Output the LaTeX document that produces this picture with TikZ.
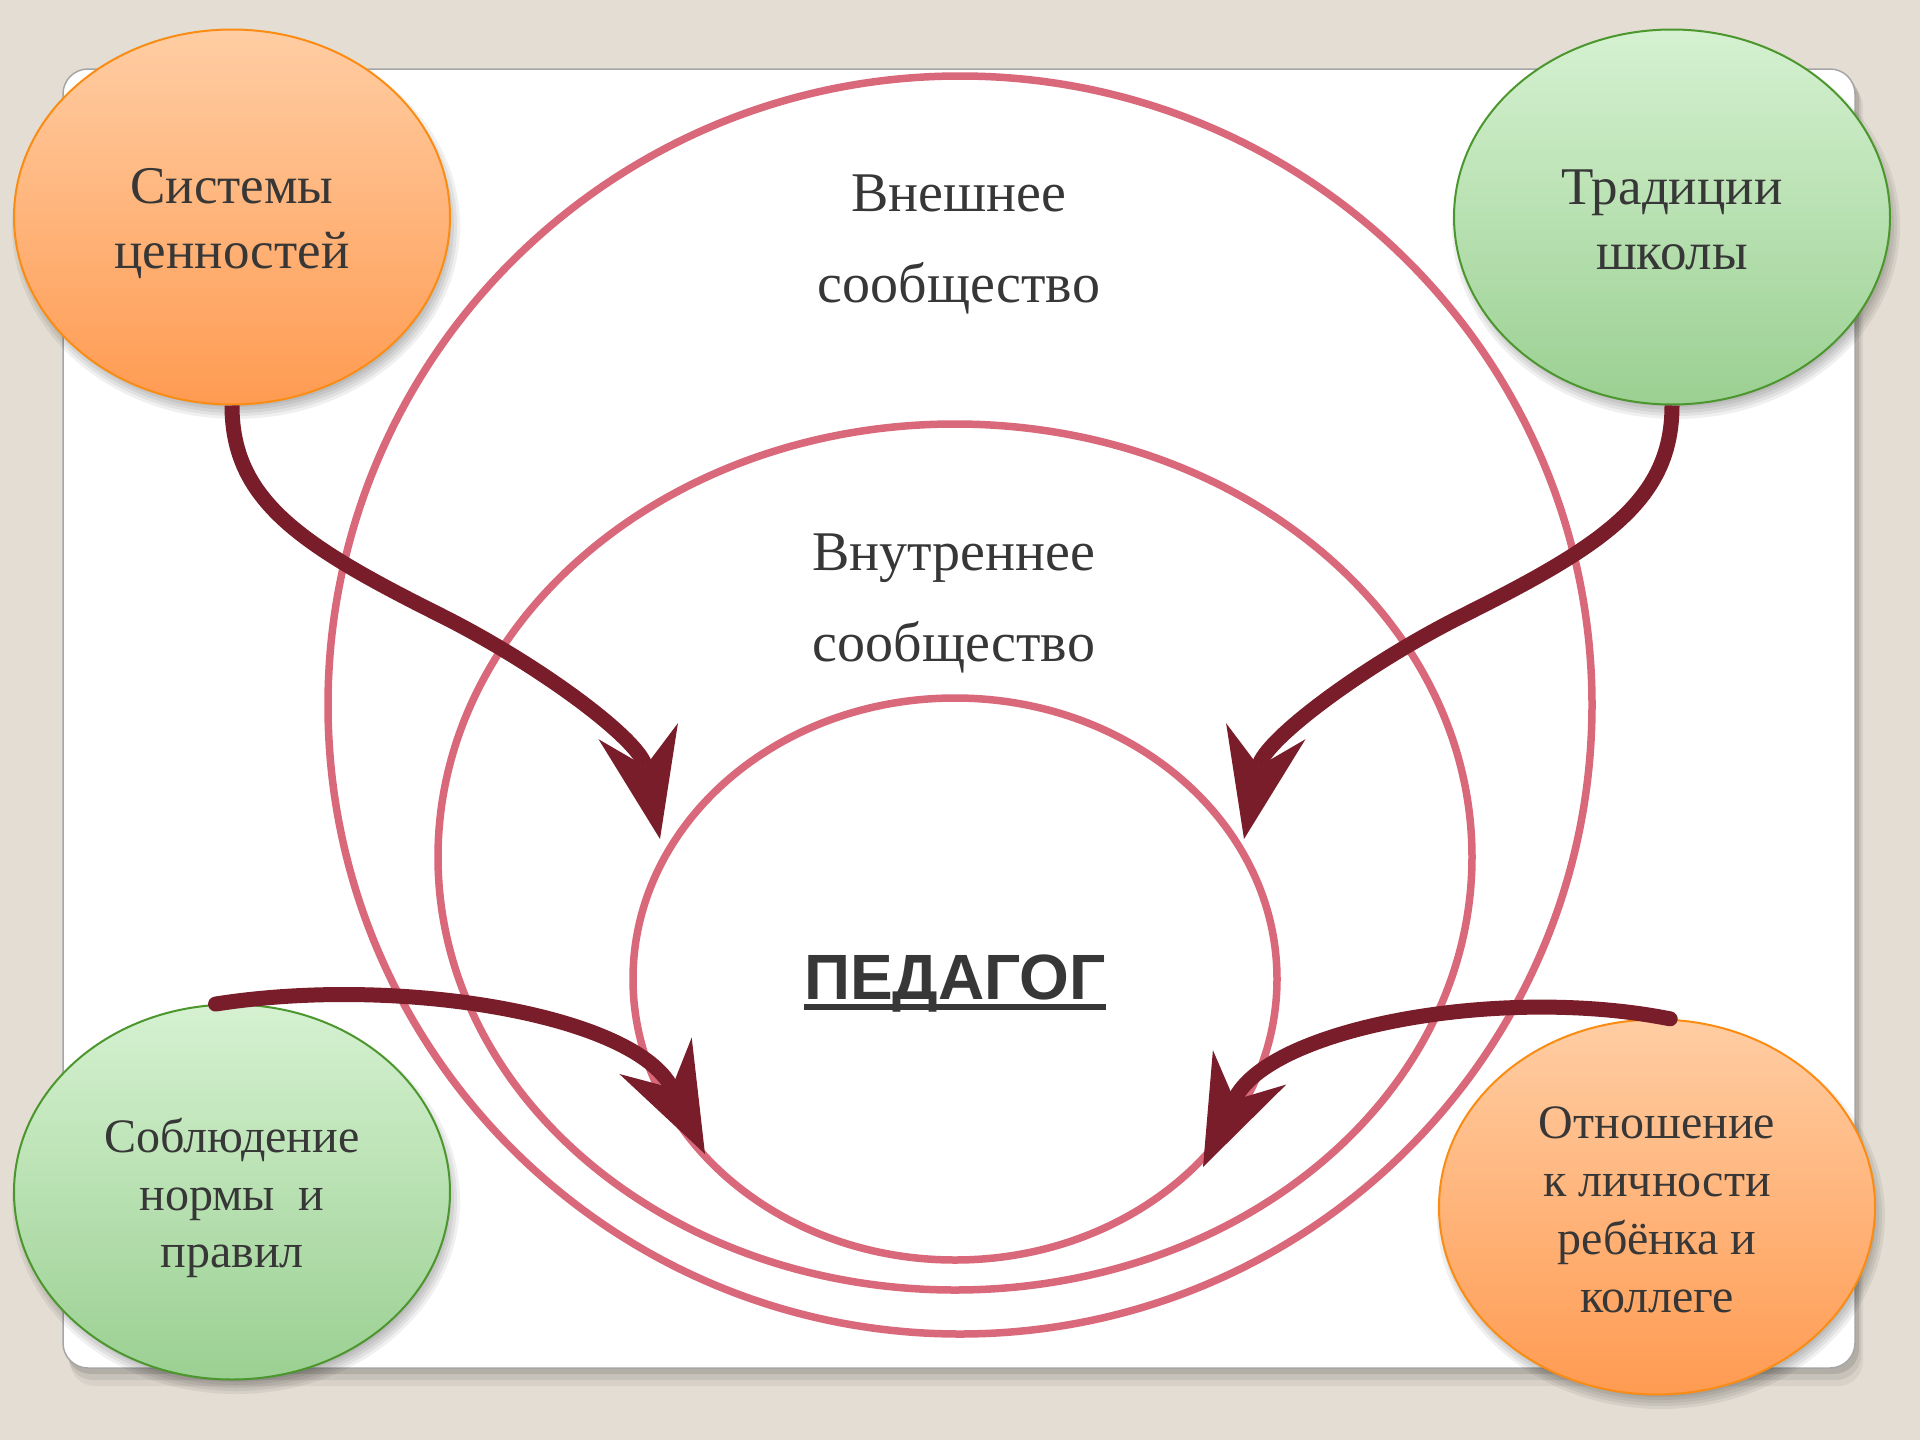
\documentclass[tikz,border=0pt]{standalone}
\usepackage{fontspec}
\setmainfont{Liberation Serif}
\newfontfamily\pedfont{Liberation Sans}
\usetikzlibrary{shapes.geometric,arrows.meta,calc}
\definecolor{bgc}{RGB}{227,221,211}
\definecolor{pinkc}{RGB}{217,105,122}
\definecolor{arrc}{RGB}{122,29,42}
\definecolor{txtc}{RGB}{55,55,55}
\definecolor{orTop}{RGB}{255,205,163}
\definecolor{orBot}{RGB}{255,155,82}
\definecolor{orLine}{RGB}{250,140,20}
\definecolor{grTop}{RGB}{213,241,209}
\definecolor{grBot}{RGB}{155,208,146}
\definecolor{grLine}{RGB}{75,150,45}
\begin{document}
\begin{tikzpicture}[x=1pt,y=-1pt,
  ring/.style={draw=pinkc, line width=7.5pt, ellipse, inner sep=0pt},
  bubble/.style={ellipse, inner sep=0pt, minimum width=436pt, minimum height=375pt,
    line width=2pt},
  orangeb/.style={bubble, draw=orLine, top color=orTop, bottom color=orBot},
  greenb/.style={bubble, draw=grLine, top color=grTop, bottom color=grBot},
  btext/.style={text=txtc, align=center, inner sep=0pt},
  bigtext/.style={text=txtc, align=center, font=\fontsize{56pt}{91pt}\selectfont},
  flow/.style={draw=arrc, line width=15pt,
    -{Stealth[length=110pt,width=81pt,inset=36pt,line width=0pt]}},
  bshadow/.style={fill=black, opacity=0.06}
]
% background
\fill[bgc] (0,0) rectangle (1920,1440);
\useasboundingbox (0,0) rectangle (1920,1440);
% panel shadow
\fill[black, opacity=0.10, rounded corners=25pt] (66,74) rectangle (1859,1374);
\fill[black, opacity=0.07, rounded corners=25pt] (68,78) rectangle (1861,1380);
\fill[black, opacity=0.05, rounded corners=25pt] (70,82) rectangle (1863,1386);
% panel
\draw[draw=black!35, fill=white, rounded corners=25pt, line width=1.5pt] (63,69) rectangle (1855,1368);
% rings
\node[ring, minimum width=1264pt, minimum height=1258pt] (outer) at (960,705) {};
\node[ring, minimum width=1034pt, minimum height=866pt] (middle) at (955,857) {};
\node[ring, minimum width=644pt, minimum height=562pt] (inner) at (955,979) {};
% texts
\node[bigtext] (ext) at (959,244) {Внешнее\\сообщество};
\node[bigtext] (int) at (954,603) {Внутреннее\\сообщество};
\node[text=txtc, anchor=base, inner sep=0pt, font=\pedfont\bfseries\fontsize{64pt}{70pt}\selectfont] (ped) at (955,999) {ПЕДАГОГ};
\fill[txtc] ($(ped.base west)+(0,5)$) rectangle ($(ped.base east)+(0,11)$);
% bubble shadows
\foreach \cx/\cy in {232/217, 1672/217, 232/1192, 1657/1207}{
  \foreach \i in {0,1,2,3,4}{
    \fill[bshadow] (\cx+4,\cy+9) ellipse [x radius={212pt+3pt*\i}, y radius={181pt+3pt*\i}];
  }
}
% bubbles
\node[orangeb] (sys) at (232,217) {};
\node[greenb] (trad) at (1672,217) {};
\node[greenb] (norm) at (232,1192) {};
\node[orangeb] (rel) at (1657,1207) {};
\node[btext, font=\fontsize{53pt}{65pt}\selectfont] (sysText) at (232,224) {Системы\\ценностей};
\node[btext, font=\fontsize{53pt}{65pt}\selectfont] (tradText) at (1672,220) {Традиции\\школы};
\node[btext, font=\fontsize{48pt}{57.5pt}\selectfont] (normText) at (232,1198) {Соблюдение\\нормы \ и\\правил};
\node[btext, font=\fontsize{48pt}{58pt}\selectfont] (relText) at (1657,1210) {Отношение\\к личности\\ребёнка и\\коллеге};
% arrow tips
\coordinate (tipA) at (660,839);
\coordinate (tipB) at (1244,839);
\coordinate (tipC) at (705,1154);
\coordinate (tipD) at (1203,1167);
% arrows
\draw[flow] (sys.south) .. controls (232,500) and (300,545) .. (440,615)
   .. controls (540,665) and (640,740) .. (tipA);
\draw[flow] (trad.south) .. controls (1672,500) and (1604,545) .. (1464,615)
   .. controls (1364,665) and (1264,740) .. (tipB);
\draw[flow, line cap=round] (norm.95) .. controls (400,975) and (635,1015) .. (tipC);
\draw[flow, line cap=round] (rel.86) .. controls (1500,985) and (1268,1028) .. (tipD);
\end{tikzpicture}
\end{document}
